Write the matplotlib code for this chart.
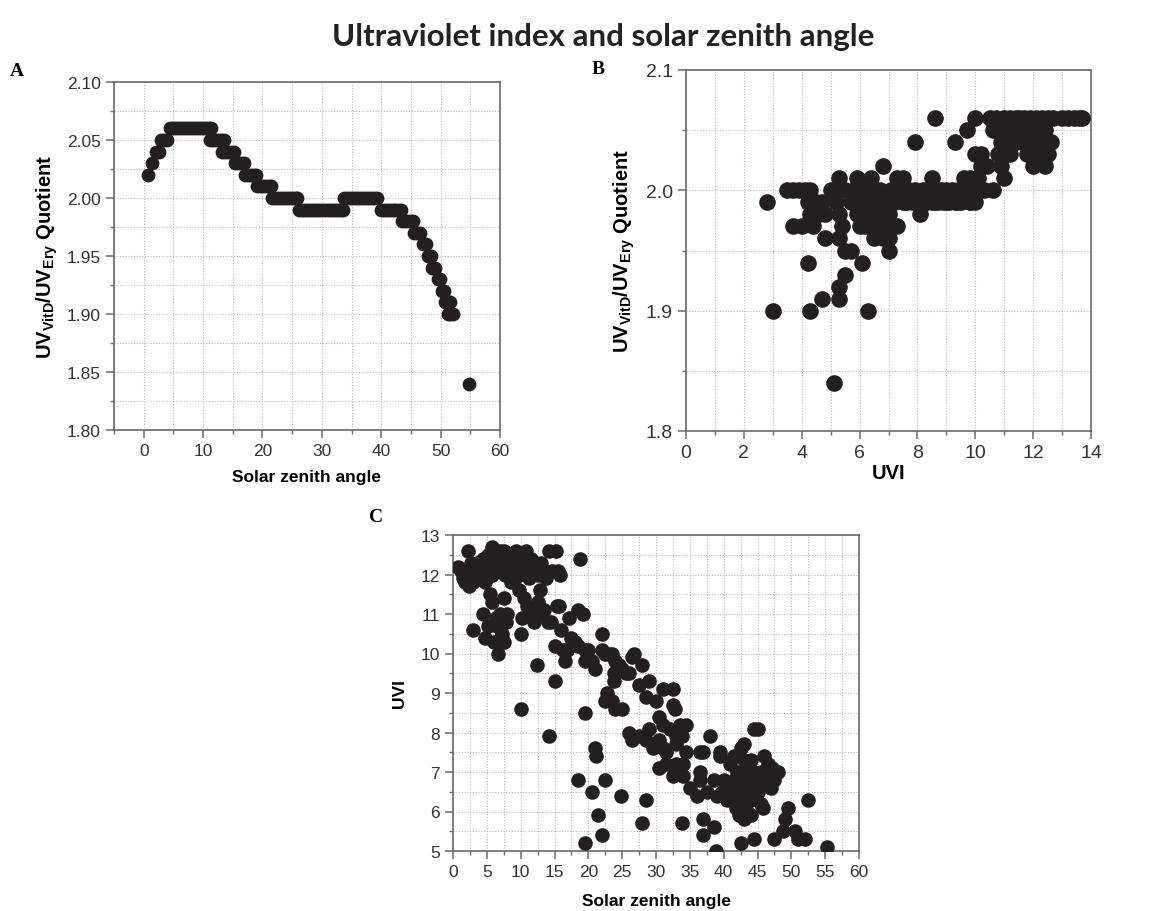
import numpy as np
import matplotlib
matplotlib.use("Agg")
import matplotlib.pyplot as plt
from matplotlib.ticker import MultipleLocator

plt.rcParams['font.family'] = ['Liberation Sans', 'DejaVu Sans']
plt.rcParams['mathtext.fontset'] = 'custom'
plt.rcParams['mathtext.rm'] = 'Liberation Sans'
plt.rcParams['mathtext.bf'] = 'Liberation Sans:bold'

# ---- panel A: quotient vs solar zenith angle ----
sza_a = [0.8, 1.4, 2.0, 2.5, 2.9, 3.5, 4.0,
         4.4, 5.0, 5.5, 6.0, 6.5, 7.0, 7.5, 8.0, 8.5, 9.0, 9.5, 10.0, 10.5, 11.0, 11.4,
         11.1, 11.6, 12.1, 12.6, 13.1, 13.5,
         13.2, 13.7, 14.2, 14.7, 15.2,
         15.4, 15.9, 16.4, 16.9,
         17.1, 17.6, 18.1, 18.6, 18.9,
         19.1, 19.6, 20.1, 20.6, 21.1, 21.4,
         21.6, 22.1, 22.6, 23.1, 23.6, 24.1, 24.6, 25.1, 25.6, 25.9,
         26.2, 26.7, 27.2, 27.7, 28.2, 28.7, 29.2, 29.7, 30.2, 30.7, 31.2, 31.7, 32.2, 32.7, 33.2, 33.5,
         33.8, 34.3, 34.8, 35.3, 35.8, 36.3, 36.8, 37.3, 37.8, 38.3, 38.8, 39.3,
         39.9, 40.4, 40.9, 41.4, 41.9, 42.4, 42.9, 43.3,
         43.5, 44.0, 44.5, 45.0, 45.3,
         45.6, 46.1, 46.6,
         47.1, 47.6,
         47.8, 48.3,
         48.6, 49.0,
         49.5, 49.9,
         50.2, 50.5,
         50.8, 51.2, 51.6,
         51.2, 51.6, 52.1,
         54.7]
quot_a = [2.02, 2.03, 2.04, 2.04, 2.05, 2.05, 2.05,
          2.06, 2.06, 2.06, 2.06, 2.06, 2.06, 2.06, 2.06, 2.06, 2.06, 2.06, 2.06, 2.06, 2.06, 2.06,
          2.05, 2.05, 2.05, 2.05, 2.05, 2.05,
          2.04, 2.04, 2.04, 2.04, 2.04,
          2.03, 2.03, 2.03, 2.03,
          2.02, 2.02, 2.02, 2.02, 2.02,
          2.01, 2.01, 2.01, 2.01, 2.01, 2.01,
          2.00, 2.00, 2.00, 2.00, 2.00, 2.00, 2.00, 2.00, 2.00, 2.00,
          1.99, 1.99, 1.99, 1.99, 1.99, 1.99, 1.99, 1.99, 1.99, 1.99, 1.99, 1.99, 1.99, 1.99, 1.99, 1.99,
          2.00, 2.00, 2.00, 2.00, 2.00, 2.00, 2.00, 2.00, 2.00, 2.00, 2.00, 2.00,
          1.99, 1.99, 1.99, 1.99, 1.99, 1.99, 1.99, 1.99,
          1.98, 1.98, 1.98, 1.98, 1.98,
          1.97, 1.97, 1.97,
          1.96, 1.96,
          1.95, 1.95,
          1.94, 1.94,
          1.93, 1.93,
          1.92, 1.92,
          1.91, 1.91, 1.91,
          1.90, 1.90, 1.90,
          1.84]

# ---- panel B: quotient vs UVI ----
uvi_b = [2.8, 3.0, 3.5, 3.7, 3.7, 3.9, 4.0, 4.1, 4.2, 4.2, 4.3, 4.3, 4.3, 4.4, 4.5, 4.6,
         4.7, 4.7, 4.8, 4.8, 5.0, 5.1, 5.2, 5.2, 5.3, 5.3, 5.3, 5.3, 5.3, 5.4, 5.5, 5.5,
         5.5, 5.7, 5.7, 5.8, 5.9, 5.9, 6.0, 6.0, 6.1, 6.1, 6.2, 6.2, 6.3, 6.3, 6.4, 6.4,
         6.5, 6.5, 6.6, 6.6, 6.7, 6.7, 6.8, 6.8, 6.9, 6.9, 7.0, 7.0, 7.0, 7.1, 7.2, 7.3,
         7.3, 7.4, 7.5, 7.5, 7.6, 7.7, 7.8, 7.9, 7.9, 8.0, 8.1, 8.2, 8.3, 8.4, 8.5, 8.5,
         8.6, 8.6, 8.8, 8.9, 9.0, 9.1, 9.2, 9.3, 9.3, 9.4, 9.5, 9.5, 9.6, 9.7, 9.7, 9.8,
         9.8, 9.9, 10.0, 10.0, 10.0, 10.1, 10.2, 10.2, 10.3, 10.4, 10.5, 10.6, 10.6, 10.7,
         10.8, 10.8, 10.9, 10.9, 11.0, 11.0, 11.0, 11.1, 11.2, 11.2, 11.3, 11.4, 11.4, 11.5,
         11.5, 11.6, 11.7, 11.7, 11.8, 11.8, 11.9, 12.0, 12.0, 12.0, 12.1, 12.2, 12.2, 12.3,
         12.3, 12.4, 12.4, 12.5, 12.5, 12.6, 12.7, 13.0, 13.2, 13.4, 13.6, 13.7,
         6.1, 6.3, 6.6, 6.9, 7.2, 7.6, 8.0, 8.3, 8.7, 9.0, 9.4, 9.8]
quot_b = [1.99, 1.90, 2.00, 2.00, 1.97, 2.00, 1.97, 2.00, 1.99, 1.94, 2.00, 1.98, 1.90, 1.97, 1.99, 1.98,
          1.91, 1.99, 1.98, 1.96, 2.00, 1.84, 2.00, 1.99, 2.01, 1.98, 1.96, 1.92, 1.91, 1.97, 1.93, 1.95,
          2.00, 1.95, 1.99, 2.00, 2.01, 1.98, 1.99, 1.97, 1.94, 1.99, 2.00, 1.97, 1.90, 1.98, 2.01, 1.99,
          1.96, 2.00, 1.97, 1.99, 2.00, 1.98, 2.02, 1.96, 1.99, 1.97, 1.95, 1.96, 1.98, 2.00, 1.99, 1.97,
          2.01, 2.00, 2.01, 1.99, 1.99, 2.00, 1.99, 2.04, 2.00, 1.99, 1.98, 2.00, 1.99, 2.00, 2.01, 1.99,
          2.06, 1.99, 2.00, 1.99, 2.00, 1.99, 2.00, 2.04, 1.99, 2.00, 1.99, 2.00, 2.01, 2.00, 2.05, 1.99,
          2.01, 2.00, 2.06, 1.99, 2.03, 2.01, 2.02, 2.03, 2.00, 2.02, 2.06, 2.00, 2.05, 2.06,
          2.05, 2.03, 2.02, 2.04, 2.06, 2.04, 2.01, 2.05, 2.06, 2.03, 2.05, 2.06, 2.04, 2.06,
          2.05, 2.04, 2.06, 2.04, 2.05, 2.03, 2.06, 2.04, 2.02, 2.05, 2.06, 2.05, 2.03, 2.06,
          2.04, 2.02, 2.05, 2.06, 2.03, 2.04, 2.06, 2.06, 2.06, 2.06, 2.06, 2.06,
          1.99, 1.99, 1.98, 1.99, 1.99, 1.99, 1.99, 1.99, 1.99, 1.99, 1.99, 1.99]

# ---- panel C: UVI vs solar zenith angle ----
sza_c = [0.7, 1.2, 1.5, 1.8, 2.0, 2.2, 2.3, 2.6, 2.8, 3.0, 3.3, 3.5, 3.8, 4.0, 4.2, 4.5,
         4.7, 5.0, 5.2, 5.5, 5.7, 5.8, 6.0, 6.2, 6.3, 6.5, 6.7, 7.0, 7.2, 7.5, 7.7, 8.0,
         8.3, 8.6, 9.0, 9.3, 9.5, 9.8, 10.0, 10.2, 10.5, 10.8, 11.0, 11.2, 11.5, 11.8, 12.0,
         12.5, 13.0, 13.4, 13.8, 14.2, 14.6, 15.2, 15.8, 15.5, 18.8,
         3.0, 4.5, 4.8, 5.2, 5.5, 5.8, 6.0, 6.3, 6.5, 6.7, 7.0, 7.2, 7.5, 7.6, 7.8, 8.0,
         8.5, 9.2, 9.8, 10.0, 10.2, 10.5, 11.0, 11.5, 12.0, 12.4, 12.6, 12.8, 13.0, 13.5,
         14.0, 14.5, 15.0, 15.3, 15.7, 16.0, 16.2, 16.5, 16.8, 17.2, 17.5, 18.0, 18.5, 18.5,
         19.2, 19.5, 19.5, 20.0, 20.5, 21.0, 15.0, 10.0, 14.2, 19.5,
         22.0, 22.0, 22.5, 23.0, 23.5, 24.0, 24.5, 25.0, 25.5, 26.0, 26.5, 26.8, 27.5, 28.0,
         28.5, 29.0, 23.8, 23.8, 22.8, 22.5, 23.5, 24.0, 25.0, 26.0, 26.5, 27.5, 28.5, 29.0,
         29.5, 30.0, 30.5, 30.5, 31.0, 31.0, 31.0, 30.5, 31.5, 31.5, 32.0, 32.5, 32.5, 32.8,
         33.0, 33.0, 33.5, 33.8, 33.0, 32.5, 33.5, 34.0, 34.0, 34.5, 34.5, 35.0, 36.0, 36.5,
         37.0, 36.5, 36.5, 37.5, 38.0, 38.5, 39.0, 39.5, 39.5, 39.8, 40.0, 40.5, 40.5,
         41.0, 41.5, 41.5, 41.5, 41.8, 42.0, 42.0, 42.2, 42.5, 42.5, 42.5, 43.0, 43.0, 43.0,
         43.0, 43.0, 43.5, 43.5, 43.5, 44.0, 44.0, 44.0, 44.5, 44.5, 45.0, 44.5, 45.0, 45.0,
         45.5, 45.5, 45.8, 46.0, 46.0, 46.0, 46.5, 46.5, 47.0, 47.0, 47.5, 48.0, 47.2,
         18.5, 20.5, 21.0, 21.2, 21.5, 22.0, 22.5, 19.5, 24.8, 28.0, 28.5, 33.8, 37.0, 37.0,
         38.5, 38.8, 42.5, 44.5, 47.5, 48.8, 49.0, 49.5, 50.5, 51.0, 52.0, 52.5, 55.2, 43.0, 44.0]
uvi_c = [12.2, 12.1, 11.9, 11.8, 12.0, 12.6, 11.7, 12.3, 12.0, 11.8, 12.1, 12.3, 11.9, 12.0, 12.2, 12.4,
         11.8, 12.1, 12.5, 12.3, 12.0, 12.7, 12.4, 12.6, 12.1, 12.5, 12.2, 12.6, 12.3, 12.6, 12.0, 12.4,
         12.1, 11.9, 12.2, 12.6, 12.4, 12.0, 12.3, 12.5, 12.1, 12.6, 12.2, 11.9, 12.4, 12.1, 12.3,
         12.0, 12.3, 12.1, 11.9, 12.6, 12.1, 12.6, 12.0, 12.1, 12.4,
         10.6, 11.0, 10.4, 10.7, 11.5, 11.3, 10.3, 10.9, 10.7, 10.0, 11.0, 10.5, 11.4, 10.3, 10.8, 11.0,
         11.8, 11.9, 11.6, 10.5, 10.9, 11.4, 11.2, 11.0, 10.8, 9.7, 11.3, 11.6, 11.0, 11.1,
         10.8, 10.8, 10.2, 11.2, 11.2, 10.6, 10.1, 9.8, 10.1, 10.9, 10.4, 10.3, 10.2, 11.1,
         11.0, 10.1, 9.8, 10.1, 9.8, 9.6, 9.3, 8.6, 7.9, 8.5,
         10.5, 10.1, 10.0, 10.0, 10.0, 9.8, 9.7, 9.6, 9.5, 9.5, 9.9, 10.0, 9.2, 9.7,
         8.9, 9.3, 9.5, 9.3, 9.0, 8.8, 8.8, 8.6, 8.6, 8.0, 7.8, 7.9, 7.8, 8.1,
         7.6, 8.8, 8.4, 7.8, 9.1, 8.2, 7.6, 7.1, 7.5, 7.2, 8.1, 8.7, 9.1, 8.6,
         7.9, 7.7, 8.2, 7.9, 7.2, 6.9, 7.0, 7.2, 6.9, 8.2, 7.5, 6.6, 6.4, 7.5,
         7.5, 7.0, 6.8, 6.5, 7.9, 6.8, 6.4, 7.4, 7.5, 6.5, 6.8, 6.6, 6.3,
         7.2, 7.4, 6.8, 6.5, 6.1, 7.0, 6.3, 5.9, 7.6, 6.8, 6.6, 7.7, 7.3, 6.9,
         6.5, 6.2, 6.0, 7.2, 6.7, 7.3, 6.6, 6.3, 6.9, 8.1, 8.1, 7.0, 6.5, 6.8,
         7.0, 6.2, 6.1, 7.4, 7.0, 6.8, 6.7, 7.2, 6.9, 6.6, 6.8, 7.0, 7.1,
         6.8, 6.5, 7.6, 7.4, 5.9, 5.4, 6.8, 5.2, 6.4, 5.7, 6.3, 5.7, 5.8, 5.4,
         5.6, 5.0, 5.2, 5.3, 5.3, 5.5, 5.8, 6.1, 5.5, 5.3, 5.3, 6.3, 5.1, 5.8, 5.9]

dot = '#231f20'
W, H = 1157, 912
fig = plt.figure(figsize=(W / 100, H / 100), dpi=100)


def style(ax, xmaj, xmin, ymaj, ymin):
    ax.xaxis.set_major_locator(MultipleLocator(xmaj))
    ax.xaxis.set_minor_locator(MultipleLocator(xmin))
    ax.yaxis.set_major_locator(MultipleLocator(ymaj))
    ax.yaxis.set_minor_locator(MultipleLocator(ymin))
    ax.grid(True, which='both', ls=(0, (1, 1.5)), color='#b8b8b8', lw=0.8)
    ax.set_axisbelow(True)
    for s in ax.spines.values():
        s.set_color('#6a6a6a')
        s.set_linewidth(1.2)
    ax.tick_params(which='both', direction='out', colors='#6a6a6a', labelcolor='#333333',
                   top=False, right=False, labelsize=12.5)
    ax.tick_params(which='major', length=6, width=1.1)
    ax.tick_params(which='minor', length=3, width=1.0)


def box(l, t, r, b):
    return fig.add_axes([l / W, 1 - b / H, (r - l) / W, (b - t) / H])


ylab = r'UV$_{\mathbf{VitD}}$/UV$_{\mathbf{Ery}}$ Quotient'

axA = box(114, 83, 500, 431)
axA.scatter(sza_a, quot_a, s=80, color=dot, zorder=3)
axA.set_xlim(-5, 60)
axA.set_ylim(1.80, 2.10)
style(axA, 10, 5, 0.05, 0.025)
axA.yaxis.set_major_formatter(matplotlib.ticker.FormatStrFormatter('%.2f'))
axA.set_xlabel('Solar zenith angle', fontsize=12.5, fontweight='bold', labelpad=8)
axA.set_ylabel(ylab, fontsize=14.5, fontweight='bold', labelpad=5)

axB = box(686, 71, 1091, 432)
axB.scatter(uvi_b, quot_b, s=120, color=dot, zorder=3)
axB.set_xlim(0, 14)
axB.set_ylim(1.8, 2.1)
style(axB, 2, 1, 0.1, 0.05)
axB.tick_params(labelsize=14)
axB.yaxis.set_major_formatter(matplotlib.ticker.FormatStrFormatter('%.1f'))
axB.set_xlabel('UVI', fontsize=14.5, fontweight='bold', labelpad=1)
axB.set_ylabel(ylab, fontsize=14.5, fontweight='bold', labelpad=6)

axC = box(453, 536, 859, 852)
axC.scatter(sza_c, uvi_c, s=90, color=dot, zorder=3)
axC.set_xlim(0, 60)
axC.set_ylim(5, 13)
style(axC, 5, 2.5, 1, 0.5)
axC.set_xlabel('Solar zenith angle', fontsize=12.5, fontweight='bold', labelpad=10)
axC.set_ylabel('UVI', fontsize=12.5, fontweight='bold', labelpad=10)

fig.text(603 / W, 1 - 46 / H, 'Ultraviolet index and solar zenith angle', ha='center', va='baseline',
         fontsize=22.5, fontweight='bold', family=['Lato', 'DejaVu Sans'], color='#222222')
for lab, x, y in [('A', 10, 71), ('B', 592, 70), ('C', 369, 517)]:
    fig.text(x / W, 1 - y / H, lab, ha='left', va='center', fontsize=14, fontweight='bold',
             family=['Liberation Serif', 'DejaVu Serif'])

fig.savefig('out.png', dpi=100)
